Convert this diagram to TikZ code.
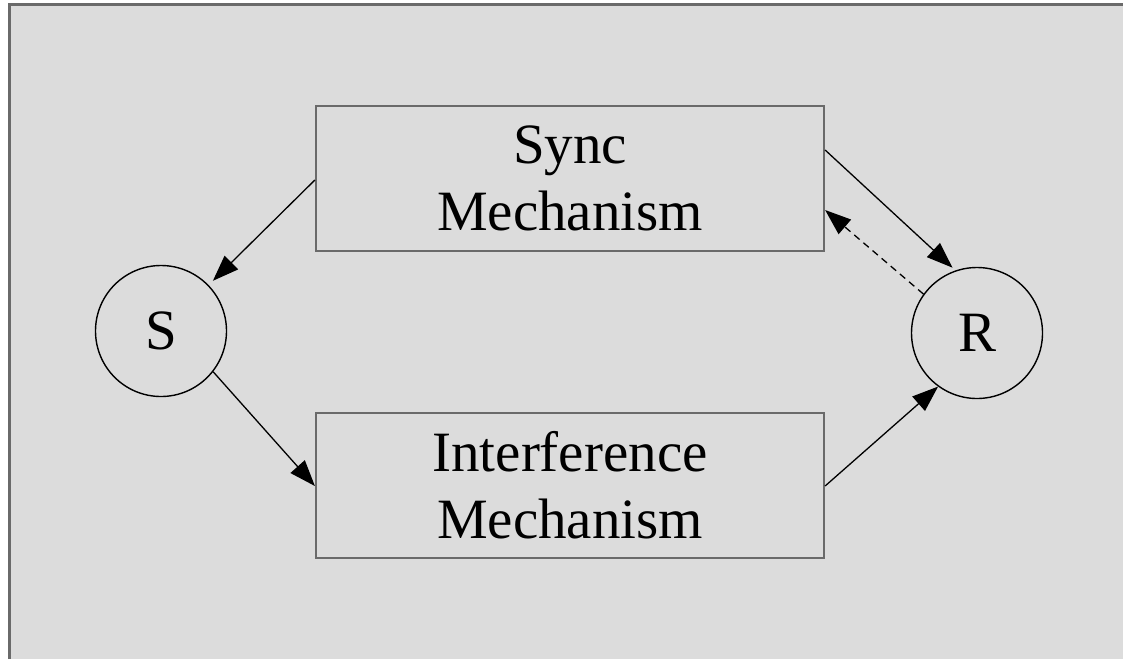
\documentclass[tikz,border=0pt]{standalone}
\usepackage{fontspec}
\setmainfont{Liberation Serif}
\usetikzlibrary{arrows.meta}
\definecolor{panel}{HTML}{DCDCDC}
\definecolor{frameg}{HTML}{6A6A6A}
\tikzset{
  mechbox/.style={draw=frameg, line width=2.2pt, minimum width=508pt, minimum height=145pt, align=center, font=\fontsize{57}{67}\selectfont, inner sep=0pt},
  endpoint/.style={draw=black, line width=1.4pt, circle, minimum size=131pt, inner sep=0pt, font=\fontsize{57}{67}\selectfont},
  link/.style={line width=1.3pt, -{Triangle[length=26pt,width=19pt]}},
  backlink/.style={link, dash pattern=on 7pt off 5pt}
}
\begin{document}
\begin{tikzpicture}[x=1pt,y=-1pt]
\useasboundingbox (0,0) rectangle (1123,659);
\fill[white] (0,0) rectangle (1123,659);
\fill[panel] (9,4) rectangle (1123,659);
\draw[frameg, line width=3pt] (9,659) -- (9,4) -- (1123,4);
\node[mechbox] (sync) at (570,178.5) {Sync\\Mechanism};
\node[mechbox] (intf) at (570,485.5) {Interference\\Mechanism};
\node[endpoint] (S) at (161,331) {S};
\node[endpoint] (R) at (977,333) {R};
\draw[link, shorten >=6pt] (sync.west |- 0,180) -- (S.44);
\draw[link] (S.-38) -- (intf.west |- 0,486);
\draw[link] (intf.east |- 0,486) -- (R.234);
\draw[link, shorten >=4pt] (sync.east |- 0,150) -- (R.109);
\draw[backlink] (R.144) -- (sync.east |- 0,210);
\end{tikzpicture}
\end{document}
